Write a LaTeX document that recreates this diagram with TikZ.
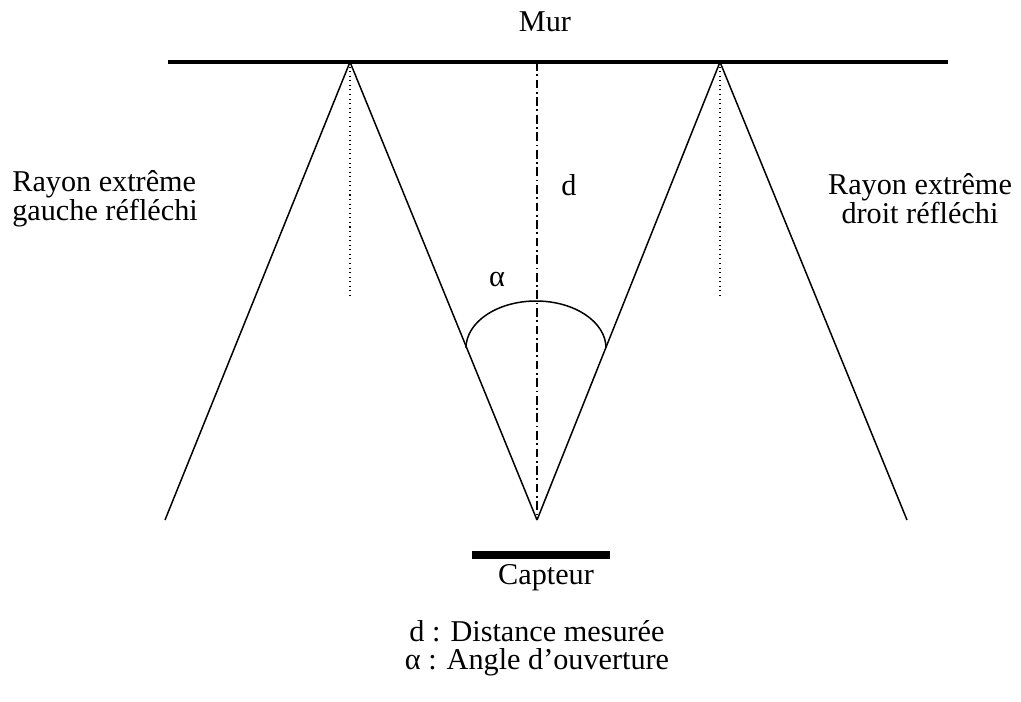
\documentclass[tikz,border=0pt]{standalone}
\usepackage{fontspec}
\setmainfont{Liberation Serif}
\usepackage{tikz}
\usetikzlibrary{positioning,calc}

\begin{document}
\begin{tikzpicture}[
    x=0.02cm, y=-0.02cm,
    lbl/.style={font=\fontsize{17.2}{16.5}\selectfont, inner sep=0pt, align=center},
    ray/.style={line width=0.85pt},
    wall/.style={line width=2.3pt},
    sensor/.style={line width=4.5pt},
    normal/.style={dotted, line width=0.6pt},
    axis/.style={line width=0.6pt, dash pattern=on 5pt off 2pt on 1pt off 2pt}
]
\useasboundingbox (0,0) rectangle (1021,701);

% Points
\coordinate (wallL) at (168,62);
\coordinate (wallR) at (948,62);
\coordinate (reflL) at (350,62);
\coordinate (reflR) at (720,62);
\coordinate (top) at (537,62);
\coordinate (apex) at (537,520);
\coordinate (endL) at (165,520);
\coordinate (endR) at (907,520);
\coordinate (footL) at (350,297);
\coordinate (footR) at (720,297);
\coordinate (capL) at (472,555);
\coordinate (capR) at (610,555);

% Wall and sensor
\draw[wall] (wallL) -- (wallR);
\draw[sensor] (capL) -- (capR);

% Rays
\draw[ray] (apex) -- (reflL) -- (endL);
\draw[ray] (apex) -- (reflR) -- (endR);

% Normals and axis
\draw[normal] (reflL) -- (footL);
\draw[normal] (reflR) -- (footR);
\draw[axis] (top) -- (apex);

% Opening angle
\draw[line width=0.85pt] (466,348) arc[start angle=180, end angle=360, x radius=70, y radius=47];

% Labels
\node[lbl] (mur) at (545,22) {Mur};
\node[lbl] (dist) at (569,185) {d};
\node[lbl] (alpha) at (497,280) {α};
\node[lbl] (capteur) at (546,578) {Capteur};
\node[lbl, align=left, anchor=west] (rayL) at (12,199) {Rayon extrême\\gauche réfléchi};
\node[lbl] (rayR) at (920,199) {Rayon extrême\\droit réfléchi};
\node[lbl, font=\fontsize{17.2}{16}\selectfont] (legend) at (537,648) {d : Distance mesurée\\α : Angle d’ouverture};
\end{tikzpicture}
\end{document}
